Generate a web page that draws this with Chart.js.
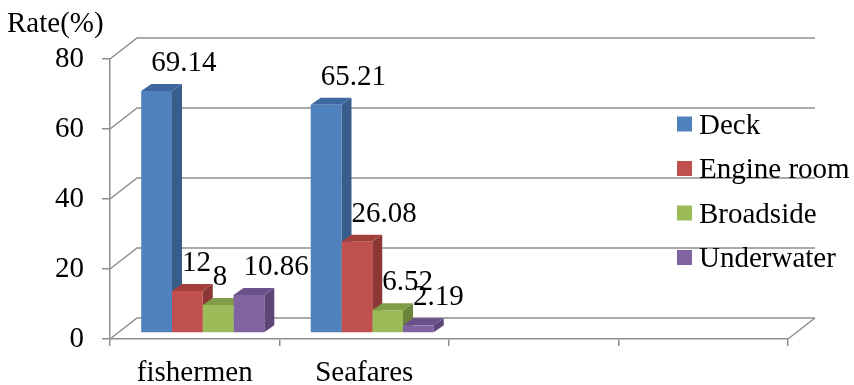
<!DOCTYPE html>
<html>
<head>
<meta charset="utf-8">
<style>
  html, body { margin: 0; padding: 0; background: #ffffff; overflow: hidden; }
</style>
<script src="https://cdn.jsdelivr.net/npm/chart.js@4.4.1/dist/chart.umd.min.js"></script>
</head>
<body>
<canvas id="c" width="854" height="385"></canvas>
<script>
// ---- data ----
const categories = ['fishermen', 'Seafares', '', ''];
const seriesNames = ['Deck', 'Engine room', 'Broadside', 'Underwater'];
const deck = [69.14, 65.21];
const engineRoom = [12, 26.08];
const broadside = [8, 6.52];
const underwater = [10.86, 2.19];
const yTickValues = [0, 20, 40, 60, 80];
const yTitle = 'Rate(%)';

// ---- look ----
const FONT = '"Liberation Serif", "Times New Roman", serif';
const FONT_SIZE = 29;
const GRID = '#8e8e8e';
const faces = [
  { front: '#4F81BD', top: '#3D69A0', side: '#385D8A' },
  { front: '#C0504D', top: '#A3403D', side: '#8C3735' },
  { front: '#9BBB59', top: '#7F9C46', side: '#6C8639' },
  { front: '#8064A2', top: '#6A518C', side: '#5B4677' }
];
// pseudo-3D geometry (pixels)
const WALL_DX = 27, WALL_DY = -21;     // depth of the back wall
const BAR_SHIFT_X = 8, BAR_SHIFT_Y = -6; // bars stand part-way into the floor
const BAR_DX = 10, BAR_DY = -7;        // depth of each bar
const LABEL_GAP = 13;

function poly(ctx, pts) {
  ctx.beginPath();
  ctx.moveTo(pts[0][0], pts[0][1]);
  for (let i = 1; i < pts.length; i++) ctx.lineTo(pts[i][0], pts[i][1]);
  ctx.closePath();
  ctx.fill();
}

function eachBar(chart, fn) {
  const n = chart.data.labels.length;
  for (let c = 0; c < n; c++) {
    chart.data.datasets.forEach((ds, i) => {
      const v = ds.data[c];
      if (v === undefined || v === null) return;
      const bar = chart.getDatasetMeta(i).data[c];
      if (!bar) return;
      const p = bar.getProps(['x', 'y', 'base', 'width'], true);
      fn(i, v, p.x - p.width / 2, p.x + p.width / 2, p.y, p.base);
    });
  }
}

const box3d = {
  id: 'box3d',
  beforeDatasetsDraw(chart) {
    const { ctx, chartArea: a, scales } = chart;
    const y = scales.y;
    // back wall gridlines with their slanted returns to the front axis
    ctx.save();
    ctx.strokeStyle = GRID;
    ctx.lineWidth = 1.5;
    ctx.beginPath();
    y.ticks.forEach(t => {
      const py = y.getPixelForValue(t.value);
      ctx.moveTo(a.left, py);
      ctx.lineTo(a.left + WALL_DX, py + WALL_DY);
      ctx.lineTo(a.right + WALL_DX, py + WALL_DY);
    });
    const p0 = y.getPixelForValue(0);
    ctx.moveTo(a.right, p0);
    ctx.lineTo(a.right + WALL_DX, p0 + WALL_DY);
    ctx.stroke();
    ctx.restore();

    // side and top faces; the library then paints the fronts over them
    ctx.save();
    ctx.translate(BAR_SHIFT_X, BAR_SHIFT_Y);
    eachBar(chart, (i, v, l, r, top, base) => {
      ctx.fillStyle = faces[i].side;
      poly(ctx, [[r, top], [r + BAR_DX, top + BAR_DY], [r + BAR_DX, base + BAR_DY], [r, base]]);
      ctx.fillStyle = faces[i].top;
      poly(ctx, [[l, top], [r, top], [r + BAR_DX, top + BAR_DY], [l + BAR_DX, top + BAR_DY]]);
    });
  },
  afterDatasetsDraw(chart) {
    const ctx = chart.ctx;
    // value labels, still in the shifted bar space
    ctx.font = FONT_SIZE + 'px ' + FONT;
    ctx.fillStyle = '#000000';
    ctx.textAlign = 'left';
    ctx.textBaseline = 'alphabetic';
    eachBar(chart, (i, v, l, r, top) => {
      ctx.fillText(String(v), l + BAR_DX, top + BAR_DY - LABEL_GAP);
    });
    ctx.restore();
  },
  afterDraw(chart) {
    const ctx = chart.ctx;
    ctx.save();
    ctx.font = FONT_SIZE + 'px ' + FONT;
    ctx.fillStyle = '#000000';
    ctx.textAlign = 'left';
    ctx.textBaseline = 'alphabetic';
    ctx.fillText(yTitle, 7, 32);
    // legend
    chart.data.datasets.forEach((ds, i) => {
      const cy = 124 + 44.5 * i;
      ctx.fillStyle = ds.backgroundColor;
      ctx.fillRect(677, cy - 7.5, 15, 15);
      ctx.fillStyle = '#000000';
      ctx.fillText(ds.label, 699, cy + 9.5);
    });
    ctx.restore();
  }
};

const seriesData = [deck, engineRoom, broadside, underwater];

new Chart(document.getElementById('c'), {
  type: 'bar',
  data: {
    labels: categories,
    datasets: seriesData.map((d, i) => ({
      label: seriesNames[i],
      data: d,
      backgroundColor: faces[i].front,
      borderWidth: 0,
      categoryPercentage: 0.726,
      barPercentage: 1,
      clip: false
    }))
  },
  options: {
    responsive: false,
    animation: false,
    events: [],
    layout: { padding: { top: 59, right: 66, bottom: 0, left: 0 } },
    plugins: {
      legend: { display: false },
      tooltip: { enabled: false },
      title: { display: false }
    },
    scales: {
      x: {
        grid: { offset: true, drawOnChartArea: false, drawTicks: true, tickLength: 7, color: GRID, lineWidth: 1.5 },
        border: { display: true, color: GRID, width: 1.5 },
        ticks: { color: '#000000', font: { family: FONT, size: FONT_SIZE }, padding: 10, maxRotation: 0, autoSkip: false },
        afterFit(s) { s.height = 46; }
      },
      y: {
        min: 0,
        max: 80,
        afterBuildTicks(s) { s.ticks = yTickValues.map(v => ({ value: v })); },
        grid: { drawOnChartArea: false, drawTicks: true, tickLength: 8, color: GRID, lineWidth: 1.5 },
        border: { display: true, color: GRID, width: 1.5 },
        ticks: { color: '#000000', font: { family: FONT, size: FONT_SIZE }, padding: 18 },
        afterFit(s) { s.width = 110; }
      }
    }
  },
  plugins: [box3d]
});
</script>
</body>
</html>
